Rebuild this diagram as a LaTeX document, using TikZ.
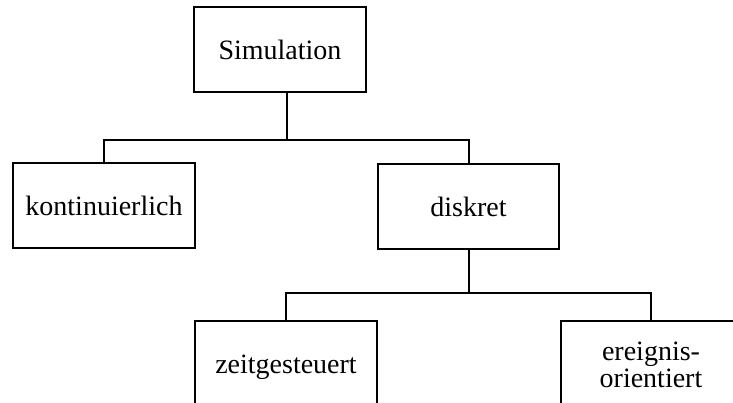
\documentclass[tikz,border=0pt]{standalone}
\usepackage{fontspec}
\setmainfont{Liberation Serif}
\begin{document}
\begin{tikzpicture}[x=1pt,y=1pt,
  box/.style={draw=black, line width=2pt, rectangle, minimum height=85pt,
    inner sep=0pt, font=\fontsize{28}{27}\selectfont,
    text height=24pt, text depth=3pt},
  link/.style={draw=black, line width=2pt}]
\useasboundingbox (0,0) rectangle (733,403);
\clip (0,0) rectangle (733,403);

% boxes of the classification tree
\node[box, minimum width=172pt] (sim)  at (280,353.5) {Simulation};
\node[box, minimum width=182pt] (kont) at (104,197.5) {kontinuierlich};
\node[box, minimum width=181pt] (disk) at (468.5,196.5) {diskret};
\node[box, minimum width=182pt] (zeit) at (286,39.5) {zeitgesteuert};
\node[box, minimum width=180pt] (ereig) at (651,39.5) {};
\node[anchor=base, inner sep=0pt, font=\fontsize{28}{27}\selectfont] (ereigtxt)
  at (651,15) {\begin{tabular}[b]{@{}c@{}}ereignis-\\orientiert\end{tabular}};

% first branching
\coordinate (j1) at (287,262);
\draw[link] (sim.south -| j1) -- (j1);
\draw[link] (kont.north) -- ++(0,22) -| (disk.north);

% second branching
\draw[link] (disk.south) -- ++(0,-43) coordinate (j2);
\draw[link] (zeit.north) |- (j2) -| (ereig.north);
\end{tikzpicture}
\end{document}
